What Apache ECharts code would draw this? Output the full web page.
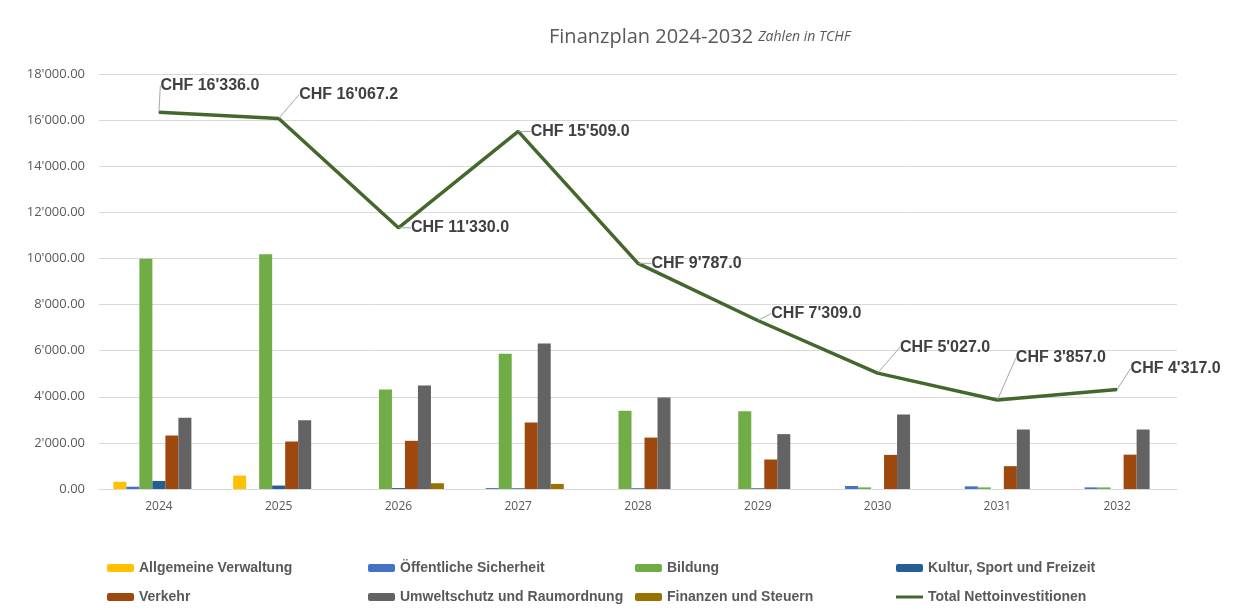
<!DOCTYPE html>
<html>
<head>
<meta charset="utf-8">
<script src="https://cdn.jsdelivr.net/npm/echarts@6/dist/echarts.min.js"></script>
<style>
html,body{margin:0;padding:0;background:#fff;}
#chart{width:1242px;height:610px;}
</style>
</head>
<body>
<div id="chart"></div>
<script>
// ---- data ----
var years = ['2024','2025','2026','2027','2028','2029','2030','2031','2032'];
var allgemeineVerwaltung = [310, 580, 0, 0, 0, 0, 0, 0, 0];
var oeffentlicheSicherheit = [100, 0, 0, 40, 0, 0, 130, 115, 70];
var bildung = [9990, 10180, 4320, 5870, 3390, 3370, 70, 70, 70];
var kulturSportFreizeit = [350, 150, 40, 30, 30, 30, 0, 0, 0];
var verkehr = [2320, 2060, 2090, 2880, 2230, 1280, 1480, 990, 1490];
var umweltschutz = [3090, 2980, 4490, 6310, 3970, 2380, 3230, 2580, 2580];
var finanzenSteuern = [0, 0, 250, 220, 0, 0, 0, 0, 0];
var totalNetto = [16336.0, 16067.2, 11330.0, 15509.0, 9787.0, 7309.0, 5027.0, 3857.0, 4317.0];

// label offsets for the callouts (dx, dy in px)
var labelOffsets = [[-4,-27],[15,-24],[7,0],[7,0],[8,0],[8,-7],[17,-26],[13,-42],[8,-21]];

function fmt(v, dec){
  var s = v.toFixed(dec);
  var parts = s.split('.');
  parts[0] = parts[0].replace(/\B(?=(\d{3})+(?!\d))/g, "'");
  return parts.join('.');
}

var FONT = 'Liberation Sans, Arial, sans-serif';
var SANS = 'Open Sans, Liberation Sans, sans-serif';
var TXT = '#595959';

var barDefs = [
  ['Allgemeine Verwaltung', allgemeineVerwaltung, '#FFC000'],
  ['Öffentliche Sicherheit', oeffentlicheSicherheit, '#4472C4'],
  ['Bildung', bildung, '#70AD47'],
  ['Kultur, Sport und Freizeit', kulturSportFreizeit, '#255E91'],
  ['Verkehr', verkehr, '#9E480E'],
  ['Umweltschutz und Raumordnung', umweltschutz, '#636363'],
  ['Finanzen und Steuern', finanzenSteuern, '#997300']
];

var series = barDefs.map(function(d){
  return {
    name: d[0], type: 'bar', data: d[1],
    barGap: '0%', barCategoryGap: '24%',
    itemStyle: {color: d[2]},
    emphasis: {disabled: true}
  };
});
series.push({
  name: 'Total Nettoinvestitionen', type: 'line', data: totalNetto,
  symbol: 'circle', symbolSize: 1, showSymbol: true,
  itemStyle: {color: '#43682B'},
  lineStyle: {color: '#43682B', width: 3.5},
  z: 5,
  label: {
    show: true, position: 'right', distance: 5,
    formatter: function(p){ return 'CHF ' + fmt(p.value, 1); },
    fontFamily: FONT, fontWeight: 'bold', fontSize: 16, color: '#404040'
  },
  labelLine: {show: true, lineStyle: {color: '#A6A6A6', width: 1}},
  labelLayout: function(p){
    var o = labelOffsets[p.dataIndex];
    return {dx: o[0], dy: o[1]};
  },
  emphasis: {disabled: true}
});

var legendText = {fontFamily: FONT, fontWeight: 'bold', fontSize: 14, color: TXT};
function col(names, left){
  return {
    orient: 'vertical', left: left, top: 556, itemGap: 15,
    itemWidth: 27, itemHeight: 8, textStyle: legendText,
    data: names, selectedMode: false
  };
}
var lineIcon = 'path://M0,0 H27 V3 H0 Z';

var chart = echarts.init(document.getElementById('chart'), null, {renderer: 'canvas'});
chart.setOption({
  backgroundColor: '#fff',
  animation: false,
  title: {
    left: 544, top: 22,
    text: '{a|Finanzplan 2024-2032} {b|Zahlen in TCHF}',
    textStyle: {
      fontWeight: 'normal',
      rich: {
        a: {fontFamily: SANS, fontSize: 20, fontWeight: 'normal', color: TXT},
        b: {fontFamily: SANS, fontSize: 14, fontWeight: 'normal', fontStyle: 'italic', color: TXT}
      }
    }
  },
  legend: [
    col(['Allgemeine Verwaltung', 'Verkehr'], 102),
    col(['Öffentliche Sicherheit', 'Umweltschutz und Raumordnung'], 363),
    col(['Bildung', 'Finanzen und Steuern'], 630),
    col(['Kultur, Sport und Freizeit', {name: 'Total Nettoinvestitionen', icon: lineIcon}], 891)
  ],
  grid: {left: 99, right: 65, top: 74, bottom: 121, containLabel: false},
  xAxis: {
    type: 'category', data: years,
    axisLine: {lineStyle: {color: '#D9D9D9', width: 1}},
    axisTick: {show: false},
    axisLabel: {fontFamily: SANS, fontSize: 12, color: TXT, margin: 12}
  },
  yAxis: {
    type: 'value', min: 0, max: 18000, interval: 2000,
    axisLine: {show: false}, axisTick: {show: false},
    splitLine: {lineStyle: {color: '#D9D9D9', width: 1}},
    axisLabel: {
      fontFamily: SANS, fontSize: 13, color: TXT, margin: 14,
      formatter: function(v){ return fmt(v, 2); }
    }
  },
  series: series
});
</script>
</body>
</html>
